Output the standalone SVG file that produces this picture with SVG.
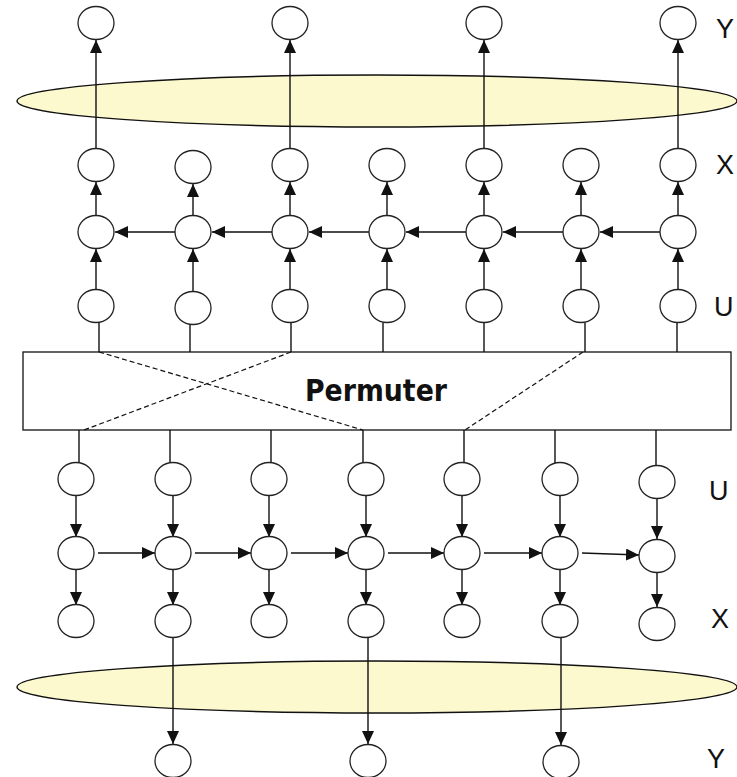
<svg xmlns="http://www.w3.org/2000/svg" width="737" height="777" viewBox="0 0 737 777">
  <style>
    .node { fill: #ffffff; stroke: #222; stroke-width: 1.3; }
    .band { fill: #fdf9cf; stroke: #111; stroke-width: 1.4; }
    .box { fill: #ffffff; stroke: #222; stroke-width: 1.4; }
    .edge { stroke: #111; stroke-width: 1.4; fill: none; }
    .arrow { stroke: #111; stroke-width: 1.4; fill: none; marker-end: url(#tip); }
    .perm { stroke: #111; stroke-width: 1.2; fill: none; stroke-dasharray: 5 3; }
    .lbl { font-family: "Liberation Sans", Arial, sans-serif; font-size: 27px; fill: #111; }
    .title { font-family: "DejaVu Sans", "Liberation Sans", sans-serif; font-size: 30px; font-weight: bold; fill: #111; }
  </style>
  <defs>
    <marker id="tip" markerUnits="userSpaceOnUse" markerWidth="13" markerHeight="12" refX="13" refY="6" orient="auto">
      <path d="M0,0 L13,6 L0,12 z" fill="#111"/>
    </marker>
  </defs>

  <!-- coded-bit bands -->
  <g id="band-top"><ellipse class="band" cx="377" cy="101" rx="360" ry="26"/></g>
  <g id="band-bottom"><ellipse class="band" cx="377" cy="687" rx="360" ry="26"/></g>

  <!-- permuter block -->
  <g id="permuter">
    <rect class="box" x="23" y="352" width="708" height="78"/>
    <text class="title" x="305" y="401" textLength="142" lengthAdjust="spacingAndGlyphs">Permuter</text>
  </g>

  <!-- connectors -->
  <g id="connectors">
    <!-- upper decoder: X to Y -->
    <line class="arrow" x1="96" y1="148" x2="96" y2="40"/>
    <line class="arrow" x1="290" y1="148" x2="290" y2="40"/>
    <line class="arrow" x1="484" y1="148" x2="484" y2="40"/>
    <line class="arrow" x1="678" y1="148" x2="678" y2="40"/>
    <!-- upper decoder: state to X -->
    <line class="arrow" x1="96" y1="215" x2="96" y2="182"/>
    <line class="arrow" x1="193" y1="215" x2="193" y2="184"/>
    <line class="arrow" x1="290" y1="215" x2="290" y2="182"/>
    <line class="arrow" x1="387" y1="215" x2="387" y2="182"/>
    <line class="arrow" x1="484" y1="215" x2="484" y2="182"/>
    <line class="arrow" x1="581" y1="215" x2="581" y2="182"/>
    <line class="arrow" x1="678" y1="215" x2="678" y2="182"/>
    <!-- upper decoder: U to state -->
    <line class="arrow" x1="96" y1="290" x2="96" y2="249"/>
    <line class="arrow" x1="193" y1="292" x2="193" y2="249"/>
    <line class="arrow" x1="290" y1="290" x2="290" y2="249"/>
    <line class="arrow" x1="387" y1="290" x2="387" y2="249"/>
    <line class="arrow" x1="484" y1="290" x2="484" y2="249"/>
    <line class="arrow" x1="581" y1="290" x2="581" y2="249"/>
    <line class="arrow" x1="678" y1="290" x2="678" y2="249"/>
    <!-- upper decoder: state chain, right to left -->
    <line class="arrow" x1="175" y1="232" x2="115" y2="232"/>
    <line class="arrow" x1="272" y1="232" x2="212" y2="232"/>
    <line class="arrow" x1="369" y1="232" x2="309" y2="232"/>
    <line class="arrow" x1="466" y1="232" x2="406" y2="232"/>
    <line class="arrow" x1="563" y1="232" x2="503" y2="232"/>
    <line class="arrow" x1="660" y1="232" x2="600" y2="232"/>
    <!-- upper U to permuter -->
    <line class="edge" x1="99" y1="323" x2="99" y2="352"/>
    <line class="edge" x1="190" y1="325" x2="190" y2="352"/>
    <line class="edge" x1="291" y1="323" x2="291" y2="352"/>
    <line class="edge" x1="383" y1="323" x2="383" y2="352"/>
    <line class="edge" x1="484" y1="323" x2="484" y2="352"/>
    <line class="edge" x1="585" y1="323" x2="585" y2="352"/>
    <line class="edge" x1="677" y1="323" x2="677" y2="352"/>
    <!-- permutation paths -->
    <line class="perm" x1="99" y1="352" x2="363" y2="430"/>
    <line class="perm" x1="291" y1="352" x2="84" y2="430"/>
    <line class="perm" x1="583" y1="352" x2="465" y2="430"/>
    <!-- permuter to lower U -->
    <line class="edge" x1="79" y1="430" x2="79" y2="463"/>
    <line class="edge" x1="170" y1="430" x2="170" y2="463"/>
    <line class="edge" x1="271" y1="430" x2="271" y2="463"/>
    <line class="edge" x1="363" y1="430" x2="363" y2="463"/>
    <line class="edge" x1="464" y1="430" x2="464" y2="463"/>
    <line class="edge" x1="555" y1="430" x2="555" y2="463"/>
    <line class="edge" x1="656" y1="430" x2="656" y2="466"/>
    <!-- lower decoder: U to state -->
    <line class="arrow" x1="76" y1="496" x2="76" y2="537"/>
    <line class="arrow" x1="173" y1="496" x2="173" y2="537"/>
    <line class="arrow" x1="269" y1="496" x2="269" y2="537"/>
    <line class="arrow" x1="366" y1="496" x2="366" y2="537"/>
    <line class="arrow" x1="462" y1="496" x2="462" y2="537"/>
    <line class="arrow" x1="560" y1="496" x2="560" y2="537"/>
    <line class="arrow" x1="657" y1="499" x2="657" y2="539"/>
    <!-- lower decoder: state to X -->
    <line class="arrow" x1="76" y1="570" x2="76" y2="605"/>
    <line class="arrow" x1="173" y1="570" x2="173" y2="605"/>
    <line class="arrow" x1="269" y1="570" x2="269" y2="605"/>
    <line class="arrow" x1="366" y1="570" x2="366" y2="605"/>
    <line class="arrow" x1="462" y1="570" x2="462" y2="605"/>
    <line class="arrow" x1="560" y1="570" x2="560" y2="605"/>
    <line class="arrow" x1="657" y1="572" x2="657" y2="607"/>
    <!-- lower decoder: state chain, left to right -->
    <line class="arrow" x1="98" y1="553" x2="155" y2="553"/>
    <line class="arrow" x1="195" y1="553" x2="251" y2="553"/>
    <line class="arrow" x1="291" y1="553" x2="348" y2="553"/>
    <line class="arrow" x1="388" y1="553" x2="444" y2="553"/>
    <line class="arrow" x1="484" y1="553" x2="542" y2="553"/>
    <line class="arrow" x1="582" y1="553" x2="639" y2="555"/>
    <!-- lower decoder: X to Y -->
    <line class="arrow" x1="173" y1="638" x2="173" y2="744"/>
    <line class="arrow" x1="368" y1="638" x2="368" y2="744"/>
    <line class="arrow" x1="561" y1="638" x2="561" y2="745"/>
  </g>

  <!-- upper decoder nodes -->
  <g id="y-top-1"><ellipse class="node" cx="96" cy="23" rx="18" ry="16.5"/></g>
  <g id="y-top-2"><ellipse class="node" cx="290" cy="23" rx="18" ry="16.5"/></g>
  <g id="y-top-3"><ellipse class="node" cx="484" cy="23" rx="18" ry="16.5"/></g>
  <g id="y-top-4"><ellipse class="node" cx="678" cy="23" rx="18" ry="16.5"/></g>

  <g id="x-top-1"><ellipse class="node" cx="96" cy="165" rx="18" ry="16.5"/></g>
  <g id="x-top-2"><ellipse class="node" cx="193" cy="167" rx="18" ry="16.5"/></g>
  <g id="x-top-3"><ellipse class="node" cx="290" cy="165" rx="18" ry="16.5"/></g>
  <g id="x-top-4"><ellipse class="node" cx="387" cy="165" rx="18" ry="16.5"/></g>
  <g id="x-top-5"><ellipse class="node" cx="484" cy="165" rx="18" ry="16.5"/></g>
  <g id="x-top-6"><ellipse class="node" cx="581" cy="165" rx="18" ry="16.5"/></g>
  <g id="x-top-7"><ellipse class="node" cx="678" cy="165" rx="18" ry="16.5"/></g>

  <g id="s-top-1"><ellipse class="node" cx="96" cy="232" rx="18" ry="16.5"/></g>
  <g id="s-top-2"><ellipse class="node" cx="193" cy="232" rx="18" ry="16.5"/></g>
  <g id="s-top-3"><ellipse class="node" cx="290" cy="232" rx="18" ry="16.5"/></g>
  <g id="s-top-4"><ellipse class="node" cx="387" cy="232" rx="18" ry="16.5"/></g>
  <g id="s-top-5"><ellipse class="node" cx="484" cy="232" rx="18" ry="16.5"/></g>
  <g id="s-top-6"><ellipse class="node" cx="581" cy="232" rx="18" ry="16.5"/></g>
  <g id="s-top-7"><ellipse class="node" cx="678" cy="232" rx="18" ry="16.5"/></g>

  <g id="u-top-1"><ellipse class="node" cx="96" cy="306" rx="18" ry="16.5"/></g>
  <g id="u-top-2"><ellipse class="node" cx="193" cy="308" rx="18" ry="16.5"/></g>
  <g id="u-top-3"><ellipse class="node" cx="290" cy="306" rx="18" ry="16.5"/></g>
  <g id="u-top-4"><ellipse class="node" cx="387" cy="306" rx="18" ry="16.5"/></g>
  <g id="u-top-5"><ellipse class="node" cx="484" cy="306" rx="18" ry="16.5"/></g>
  <g id="u-top-6"><ellipse class="node" cx="581" cy="306" rx="18" ry="16.5"/></g>
  <g id="u-top-7"><ellipse class="node" cx="678" cy="306" rx="18" ry="16.5"/></g>

  <!-- lower decoder nodes -->
  <g id="u-bot-1"><ellipse class="node" cx="76" cy="479" rx="18" ry="16.5"/></g>
  <g id="u-bot-2"><ellipse class="node" cx="173" cy="479" rx="18" ry="16.5"/></g>
  <g id="u-bot-3"><ellipse class="node" cx="269" cy="479" rx="18" ry="16.5"/></g>
  <g id="u-bot-4"><ellipse class="node" cx="366" cy="479" rx="18" ry="16.5"/></g>
  <g id="u-bot-5"><ellipse class="node" cx="462" cy="479" rx="18" ry="16.5"/></g>
  <g id="u-bot-6"><ellipse class="node" cx="560" cy="479" rx="18" ry="16.5"/></g>
  <g id="u-bot-7"><ellipse class="node" cx="657" cy="482" rx="18" ry="16.5"/></g>

  <g id="s-bot-1"><ellipse class="node" cx="76" cy="553" rx="18" ry="16.5"/></g>
  <g id="s-bot-2"><ellipse class="node" cx="173" cy="553" rx="18" ry="16.5"/></g>
  <g id="s-bot-3"><ellipse class="node" cx="269" cy="553" rx="18" ry="16.5"/></g>
  <g id="s-bot-4"><ellipse class="node" cx="366" cy="553" rx="18" ry="16.5"/></g>
  <g id="s-bot-5"><ellipse class="node" cx="462" cy="553" rx="18" ry="16.5"/></g>
  <g id="s-bot-6"><ellipse class="node" cx="560" cy="553" rx="18" ry="16.5"/></g>
  <g id="s-bot-7"><ellipse class="node" cx="657" cy="556" rx="18" ry="16.5"/></g>

  <g id="x-bot-1"><ellipse class="node" cx="76" cy="621" rx="18" ry="16.5"/></g>
  <g id="x-bot-2"><ellipse class="node" cx="173" cy="621" rx="18" ry="16.5"/></g>
  <g id="x-bot-3"><ellipse class="node" cx="269" cy="621" rx="18" ry="16.5"/></g>
  <g id="x-bot-4"><ellipse class="node" cx="366" cy="621" rx="18" ry="16.5"/></g>
  <g id="x-bot-5"><ellipse class="node" cx="462" cy="621" rx="18" ry="16.5"/></g>
  <g id="x-bot-6"><ellipse class="node" cx="560" cy="621" rx="18" ry="16.5"/></g>
  <g id="x-bot-7"><ellipse class="node" cx="657" cy="624" rx="18" ry="16.5"/></g>

  <g id="y-bot-1"><ellipse class="node" cx="173" cy="761" rx="18" ry="16.5"/></g>
  <g id="y-bot-2"><ellipse class="node" cx="368" cy="761" rx="18" ry="16.5"/></g>
  <g id="y-bot-3"><ellipse class="node" cx="561" cy="762" rx="18" ry="16.5"/></g>

  <!-- row labels -->
  <g id="labels">
    <text class="lbl" x="716" y="38">Y</text>
    <text class="lbl" x="716" y="174">X</text>
    <text class="lbl" x="714" y="316">U</text>
    <text class="lbl" x="709" y="500">U</text>
    <text class="lbl" x="711" y="628">X</text>
    <text class="lbl" x="707" y="768">Y</text>
  </g>
</svg>
